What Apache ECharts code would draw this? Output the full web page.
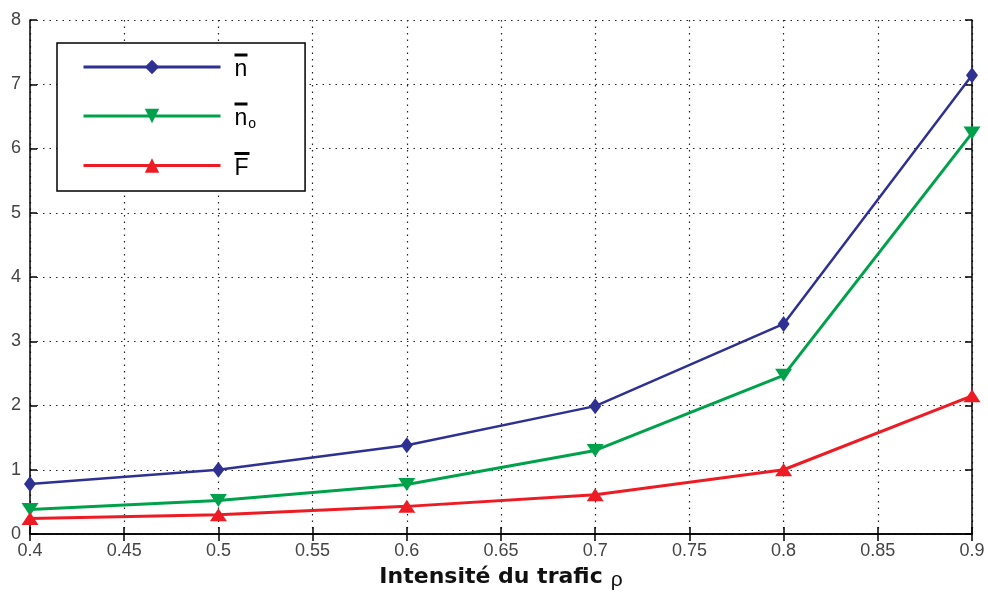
<!DOCTYPE html>
<html>
<head>
<meta charset="utf-8">
<script src="https://cdn.jsdelivr.net/npm/echarts@6/dist/echarts.min.js"></script>
<style>
  html, body { margin: 0; padding: 0; background: #fff; }
  #chart { width: 988px; height: 594px; }
</style>
</head>
<body>
<div id="chart"></div>
<script>
const rho = [0.4, 0.5, 0.6, 0.7, 0.8, 0.9];
const nMean = [0.78, 1.0, 1.38, 1.99, 3.27, 7.14];
const nO = [0.38, 0.52, 0.77, 1.3, 2.47, 6.24];
const fMean = [0.24, 0.3, 0.43, 0.61, 1.0, 2.15];
const seriesNames = ["n", "no", "F"];

const blue = "#2e3192";
const green = "#00a14b";
const red = "#ed1c24";
const font = "Liberation Sans";

const pairs = (ys) => rho.map((x, i) => [x, ys[i]]);

const axisLine = { show: true, lineStyle: { color: "#000", width: 1.5 } };
const grid = { show: true, lineStyle: { color: "#222", width: 1.2, type: [1.5, 5] } };
const tick = { show: true, inside: true, length: 7, lineStyle: { color: "#000", width: 1.5 } };

// overline drawn as a small filled rich-text box above the letter
const legendRich = {
  bar: { width: 13, height: 3, backgroundColor: "#000", lineHeight: 6, padding: 0 },
  barw: { width: 15, height: 3, backgroundColor: "#000", lineHeight: 6, padding: 0 },
  t: { fontSize: 23, fontFamily: font, color: "#000", lineHeight: 24 },
  sub: { fontSize: 14, fontFamily: font, color: "#000", lineHeight: 24, verticalAlign: "bottom", padding: [12, 0, 0, 1] }
};

const chart = echarts.init(document.getElementById("chart"));
chart.setOption({
  animation: false,
  backgroundColor: "#fff",
  grid: { left: 30, right: 16, top: 20, bottom: 60, outerBoundsMode: "none", containLabel: false },
  legend: {
    data: seriesNames,
    orient: "vertical",
    left: 57,
    top: 43,
    padding: [6, 49, 11, 25],
    itemGap: 16.5,
    itemWidth: 137,
    itemHeight: 18,
    borderColor: "#000",
    borderWidth: 1.5,
    backgroundColor: "#fff",
    lineStyle: { width: 3 },
    textStyle: { rich: legendRich, padding: [0, 0, 0, 9] },
    formatter: (name) => {
      if (name === "n") return "{bar| }\n{t|n}";
      if (name === "no") return "{bar| }\n{t|n}{sub|o}";
      return "{barw| }\n{t|F}";
    }
  },
  xAxis: [
    {
      type: "value",
      min: 0.4,
      max: 0.9,
      interval: 0.05,
      axisLine: axisLine,
      axisTick: tick,
      splitLine: grid,
      axisLabel: {
        color: "#444",
        fontSize: 18,
        fontFamily: font,
        margin: 8,
        formatter: (v) => String(+v.toFixed(2))
      },
      name: "{b|Intensité du trafic}{s| }{r|ρ}",
      nameLocation: "middle",
      nameGap: 30,
      nameTextStyle: {
        rich: {
          b: { fontSize: 22, fontWeight: "bold", fontFamily: "DejaVu Sans", color: "#111" },
          s: { width: 8 },
          r: { fontSize: 21, fontFamily: font, color: "#111", padding: [6, 0, 0, 0] }
        }
      }
    },
    {
      type: "value",
      position: "top",
      min: 0.4,
      max: 0.9,
      interval: 0.05,
      axisLine: axisLine,
      axisTick: tick,
      axisLabel: { show: false },
      splitLine: { show: false }
    }
  ],
  yAxis: [
    {
      type: "value",
      min: 0,
      max: 8,
      interval: 1,
      axisLine: axisLine,
      axisTick: tick,
      splitLine: grid,
      axisLabel: { color: "#444", fontSize: 18, fontFamily: font, margin: 9 }
    },
    {
      type: "value",
      position: "right",
      min: 0,
      max: 8,
      interval: 1,
      axisLine: axisLine,
      axisTick: tick,
      axisLabel: { show: false },
      splitLine: { show: false }
    }
  ],
  series: [
    {
      name: "n",
      type: "line",
      data: pairs(nMean),
      symbol: "diamond",
      symbolSize: [12, 16],
      itemStyle: { color: blue },
      lineStyle: { color: blue, width: 2.5 },
      z: 3
    },
    {
      name: "no",
      type: "line",
      data: pairs(nO),
      symbol: "triangle",
      symbolRotate: 180,
      symbolSize: [17, 13],
      itemStyle: { color: green },
      lineStyle: { color: green, width: 3 },
      z: 2
    },
    {
      name: "F",
      type: "line",
      data: pairs(fMean),
      symbol: "triangle",
      symbolSize: [17, 13],
      itemStyle: { color: red },
      lineStyle: { color: red, width: 3 },
      z: 2
    }
  ]
});
</script>
</body>
</html>
